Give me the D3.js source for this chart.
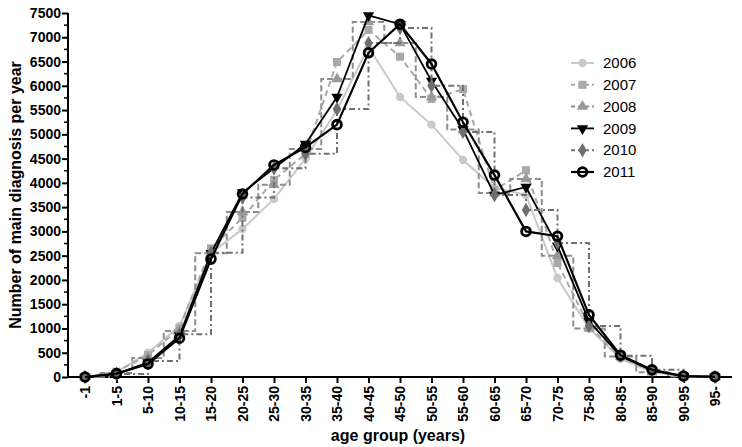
<!DOCTYPE html>
<html lang="en">
<head>
<meta charset="utf-8">
<script src="https://d3js.org/d3.v7.min.js"></script>
<style>
  body { margin: 0; background: #fff; font-family: 'Liberation Sans', Arial, sans-serif; }
  .tick text { font-weight: bold; font-size: 14px; fill: #000; font-family: 'Liberation Sans', Arial, sans-serif; }
  .axis-title { font-weight: bold; font-size: 16px; }
  .legend text { font-size: 15px; }
</style>
</head>
<body>
<div id="chart"></div>
<script>
// age groups on the x axis
var ageGroups = ["-1","1-5","5-10","10-15","15-20","20-25","25-30","30-35","35-40","40-45",
  "45-50","50-55","55-60","60-65","65-70","70-75","75-80","80-85","85-90","90-95","95-"];

// main diagnoses per year
var y2006 = [0, 100, 500, 1050, 2550, 3050, 3670, 4500, 5500, 6800, 5770, 5200, 4470, 3900, 3750, 2040, 1000, 380, 100, 10, 0];
var y2007 = [0, 110, 450, 1000, 2650, 3280, 4060, 4600, 6490, 7150, 6600, 5730, 5930, 3850, 4260, 2350, 1050, 400, 120, 15, 0];
var y2008 = [0, 80, 390, 950, 2550, 3400, 3960, 4700, 6140, 7315, 6880, 5770, 5100, 3790, 4080, 2500, 1000, 420, 100, 10, 0];
var y2009 = [0, 60, 300, 850, 2550, 3800, 4300, 4800, 5770, 7450, 7270, 6100, 5100, 3750, 3915, 2700, 1150, 430, 130, 20, 5];
var y2010 = [0, 60, 330, 880, 2560, 3700, 4300, 4600, 5520, 6880, 7190, 6000, 5050, 3750, 3440, 2760, 1050, 440, 150, 15, 0];
var y2011 = [0, 70, 270, 800, 2430, 3770, 4370, 4730, 5200, 6680, 7270, 6450, 5250, 4160, 3000, 2900, 1280, 450, 150, 20, 5];

var yTicks = d3.range(0, 7501, 500);

var series = [
  {name: "2006", values: y2006, stroke: "#c9c9c9", width: 2,   dash: null,      curve: d3.curveLinear,    symbol: d3.symbolCircle,   size: 55, fill: "#c9c9c9", sStroke: "none"},
  {name: "2007", values: y2007, stroke: "#a9a9a9", width: 2,   dash: "6,4",     curve: d3.curveLinear,    symbol: d3.symbolSquare,   size: 65, fill: "#a9a9a9", sStroke: "none"},
  {name: "2008", values: y2008, stroke: "#8e8e8e", width: 2,   dash: "6,3",     curve: d3.curveStep,      symbol: d3.symbolTriangle, size: 55, fill: "#999",    sStroke: "none"},
  {name: "2009", values: y2009, stroke: "#000",    width: 1.8, dash: null,      curve: d3.curveLinear,    symbol: d3.symbolTriangle, size: 55, fill: "#000",    sStroke: "none", flip: true},
  {name: "2010", values: y2010, stroke: "#717171", width: 2,   dash: "6,3,2,3", curve: d3.curveStepAfter, symbol: d3.symbolDiamond,  size: 60, fill: "#6e6e6e", sStroke: "none"},
  {name: "2011", values: y2011, stroke: "#000",    width: 2.2, dash: null,      curve: d3.curveLinear,    symbol: d3.symbolCircle,   size: 60, fill: "none",    sStroke: "#000"}
];

var width = 742, height = 447;
var axisX = 68, axisY = 377;

var svg = d3.select("#chart").append("svg")
  .attr("width", width)
  .attr("height", height);

var x = d3.scalePoint()
  .domain(ageGroups)
  .range([85, 715]);

var y = d3.scaleLinear()
  .domain([0, 7500])
  .range([axisY, 13]);

//// axes
var yAxis = svg.append("g")
  .attr("transform", "translate(" + axisX + ",0)")
  .call(d3.axisLeft(y).tickValues(yTicks).tickFormat(d3.format("d")).tickSize(6).tickPadding(1).tickSizeOuter(0));
yAxis.select(".domain").attr("stroke-width", 2).attr("d", "M0," + (axisY + 1) + "V" + y(7500));
yAxis.selectAll(".tick line").attr("stroke-width", 2);

// minor ticks
svg.append("g").selectAll("line")
  .data(d3.range(250, 7500, 500))
  .enter().append("line")
  .attr("x1", axisX - 4).attr("x2", axisX)
  .attr("y1", function(d) { return y(d); })
  .attr("y2", function(d) { return y(d); })
  .attr("stroke", "#000").attr("stroke-width", 1.5);

var xAxis = svg.append("g")
  .attr("transform", "translate(0," + axisY + ")")
  .call(d3.axisBottom(x).tickSize(6).tickSizeOuter(0));
xAxis.select(".domain").attr("stroke-width", 2).attr("d", "M" + (axisX - 1) + ",0H732");
xAxis.selectAll(".tick line").attr("stroke-width", 2);
xAxis.selectAll(".tick text")
  .attr("transform", "rotate(-90)")
  .attr("text-anchor", "end")
  .attr("x", -9)
  .attr("y", 0)
  .attr("dy", "0.35em");

svg.append("text")
  .attr("class", "axis-title")
  .attr("text-anchor", "middle")
  .attr("transform", "translate(21," + ((axisY + 13) / 2) + ") rotate(-90)")
  .text("Number of main diagnosis per year");

svg.append("text")
  .attr("class", "axis-title")
  .attr("text-anchor", "middle")
  .attr("x", 398).attr("y", 441)
  .text("age group (years)");

//// series
var plot = svg.append("g");

series.forEach(function(s) {
  var line = d3.line()
    .x(function(d, i) { return x(ageGroups[i]); })
    .y(function(d) { return y(d); })
    .curve(s.curve);

  plot.append("path")
    .datum(s.values)
    .attr("fill", "none")
    .attr("stroke", s.stroke)
    .attr("stroke-width", s.width)
    .attr("stroke-dasharray", s.dash)
    .attr("d", line);

  plot.selectAll(null)
    .data(s.values)
    .enter().append("path")
    .attr("d", d3.symbol().type(s.symbol).size(s.size))
    .attr("transform", function(d, i) {
      return "translate(" + x(ageGroups[i]) + "," + y(d) + ")" + (s.flip ? " rotate(180)" : "");
    })
    .attr("fill", s.fill)
    .attr("stroke", s.sStroke)
    .attr("stroke-width", 2.8);
});

//// legend
var legend = svg.append("g").attr("class", "legend");
series.forEach(function(s, i) {
  var ly = 63 + i * 21.8;
  legend.append("line")
    .attr("x1", 571).attr("x2", 594)
    .attr("y1", ly).attr("y2", ly)
    .attr("stroke", s.stroke)
    .attr("stroke-width", s.width)
    .attr("stroke-dasharray", s.dash ? "4,3" : null);
  legend.append("path")
    .attr("d", d3.symbol().type(s.symbol).size(s.size))
    .attr("transform", "translate(582.5," + ly + ")" + (s.flip ? " rotate(180)" : ""))
    .attr("fill", s.fill)
    .attr("stroke", s.sStroke)
    .attr("stroke-width", 2.8);
  legend.append("text")
    .attr("x", 603).attr("y", ly)
    .attr("dy", "0.35em")
    .text(s.name);
});
</script>
</body>
</html>
